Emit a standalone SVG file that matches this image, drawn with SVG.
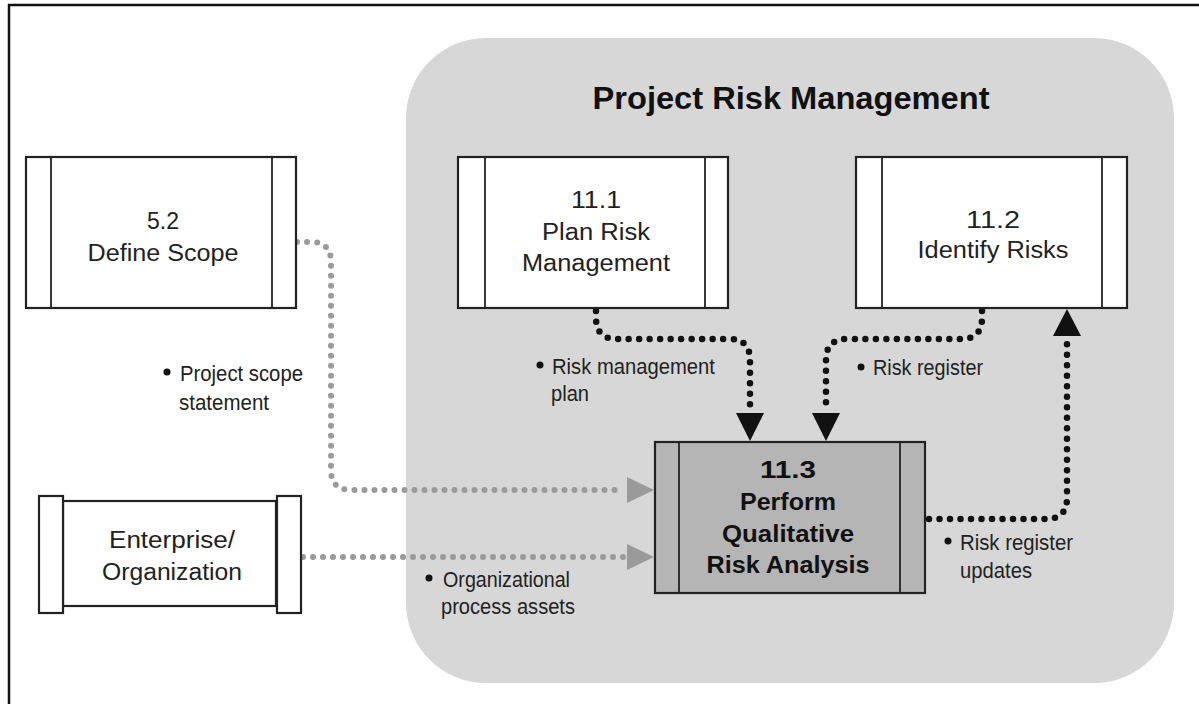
<svg xmlns="http://www.w3.org/2000/svg" width="1199" height="704" viewBox="0 0 1199 704">
  <style>
    .frame { fill: none; stroke: #111; stroke-width: 2.5; }
    .panel { fill: #d7d7d7; }
    .box { fill: #ffffff; stroke: #222; stroke-width: 2.2; }
    .bar { fill: none; stroke: #222; stroke-width: 1.8; }
    .hot { fill: #b5b5b5; stroke: #222; stroke-width: 2.2; }
    .lbl { font-family: "Liberation Sans", Arial, sans-serif; fill: #222; }
    .node { font-size: 23px; text-anchor: middle; }
    .bold { font-weight: bold; fill: #111; }
    .note { font-size: 22px; }
    .dot-gray { fill: none; stroke: #9a9a9a; stroke-width: 6; stroke-linecap: round; stroke-dasharray: 0 10; }
    .dot-black { fill: none; stroke: #111; stroke-width: 6.5; stroke-linecap: round; stroke-dasharray: 0 10.5; }
    .head-gray { fill: #9a9a9a; }
    .head-black { fill: #111; }
    .bullet { fill: #111; }
  </style>

  <!-- page frame (top and left rules) -->
  <path class="frame" d="M9,704 L9,5 L1199,5"/>

  <!-- knowledge-area panel -->
  <g id="panel">
    <rect class="panel" x="406" y="38" width="768" height="645" rx="80" ry="80"/>
    <text class="lbl bold" x="791" y="109" font-size="32" text-anchor="middle" textLength="397" lengthAdjust="spacingAndGlyphs">Project Risk Management</text>
  </g>

  <!-- connectors -->
  <g id="connectors">
    <!-- Define Scope to 11.3 -->
    <path class="dot-gray" d="M297,242 L311,242 Q331,242 331,262 L331,470 Q331,490 351,490 L624,490"/>
    <polygon class="head-gray" points="627,477 654,490 627,503"/>
    <!-- Enterprise/Organization to 11.3 -->
    <path class="dot-gray" d="M303,557 L624,557"/>
    <polygon class="head-gray" points="627,544 654,557 627,570"/>
    <!-- 11.1 to 11.3 -->
    <path class="dot-black" d="M596,311 L596,318 Q596,339 617,339 L729,339 Q750,339 750,360 L750,410"/>
    <polygon class="head-black" points="736,413 764,413 750,441"/>
    <!-- 11.2 to 11.3 -->
    <path class="dot-black" d="M982,311 L982,318 Q982,339 961,339 L847,339 Q826,339 826,360 L826,410"/>
    <polygon class="head-black" points="812,413 840,413 826,441"/>
    <!-- 11.3 back to 11.2 -->
    <path class="dot-black" d="M929,519 L1046,519 Q1067,519 1067,498 L1067,339"/>
    <polygon class="head-black" points="1053,336 1081,336 1067,309"/>
  </g>

  <!-- 5.2 Define Scope -->
  <g id="define-scope">
    <rect class="box" x="26" y="157" width="270" height="151"/>
    <line class="bar" x1="51" y1="157" x2="51" y2="308"/>
    <line class="bar" x1="272" y1="157" x2="272" y2="308"/>
    <text class="lbl node" x="163" y="229" font-size="24">5.2</text>
    <text class="lbl node" x="163" y="261" font-size="24" textLength="151" lengthAdjust="spacingAndGlyphs">Define Scope</text>
  </g>

  <!-- Enterprise/Organization -->
  <g id="enterprise">
    <rect class="box" x="63" y="501" width="213" height="105"/>
    <rect class="box" x="39" y="496" width="24" height="117"/>
    <rect class="box" x="277" y="496" width="24" height="117"/>
    <text class="lbl node" x="172" y="548" textLength="126" lengthAdjust="spacingAndGlyphs">Enterprise/</text>
    <text class="lbl node" x="172" y="580" textLength="140" lengthAdjust="spacingAndGlyphs">Organization</text>
  </g>

  <!-- 11.1 Plan Risk Management -->
  <g id="plan-risk">
    <rect class="box" x="458" y="157" width="270" height="151"/>
    <line class="bar" x1="485" y1="157" x2="485" y2="308"/>
    <line class="bar" x1="705" y1="157" x2="705" y2="308"/>
    <text class="lbl node" x="596" y="208" textLength="50" lengthAdjust="spacingAndGlyphs">11.1</text>
    <text class="lbl node" x="596" y="240" textLength="108" lengthAdjust="spacingAndGlyphs">Plan Risk</text>
    <text class="lbl node" x="596" y="271" textLength="148" lengthAdjust="spacingAndGlyphs">Management</text>
  </g>

  <!-- 11.2 Identify Risks -->
  <g id="identify-risks">
    <rect class="box" x="856" y="157" width="271" height="151"/>
    <line class="bar" x1="882" y1="157" x2="882" y2="308"/>
    <line class="bar" x1="1102" y1="157" x2="1102" y2="308"/>
    <text class="lbl node" x="993" y="228" textLength="54" lengthAdjust="spacingAndGlyphs">11.2</text>
    <text class="lbl node" x="993" y="258" textLength="151" lengthAdjust="spacingAndGlyphs">Identify Risks</text>
  </g>

  <!-- 11.3 Perform Qualitative Risk Analysis -->
  <g id="qualitative">
    <rect class="hot" x="655" y="442" width="270" height="151"/>
    <line class="bar" x1="679" y1="442" x2="679" y2="593"/>
    <line class="bar" x1="900" y1="442" x2="900" y2="593"/>
    <text class="lbl node bold" x="788" y="478" font-size="24" textLength="56" lengthAdjust="spacingAndGlyphs">11.3</text>
    <text class="lbl node bold" x="788" y="510" font-size="24" textLength="96" lengthAdjust="spacingAndGlyphs">Perform</text>
    <text class="lbl node bold" x="788" y="542" font-size="24" textLength="132" lengthAdjust="spacingAndGlyphs">Qualitative</text>
    <text class="lbl node bold" x="788" y="573" font-size="24" textLength="163" lengthAdjust="spacingAndGlyphs">Risk Analysis</text>
  </g>

  <!-- flow labels -->
  <g id="labels">
    <circle class="bullet" cx="167" cy="372" r="3.5"/>
    <text class="lbl note" x="180" y="381" textLength="123" lengthAdjust="spacingAndGlyphs">Project scope</text>
    <text class="lbl note" x="179" y="410" textLength="90" lengthAdjust="spacingAndGlyphs">statement</text>

    <circle class="bullet" cx="540" cy="365" r="3.5"/>
    <text class="lbl note" x="552" y="374" textLength="163" lengthAdjust="spacingAndGlyphs">Risk management</text>
    <text class="lbl note" x="551" y="401" textLength="38" lengthAdjust="spacingAndGlyphs">plan</text>

    <circle class="bullet" cx="861" cy="367" r="3.5"/>
    <text class="lbl note" x="873" y="375" textLength="110" lengthAdjust="spacingAndGlyphs">Risk register</text>

    <circle class="bullet" cx="429" cy="578" r="3.5"/>
    <text class="lbl note" x="443" y="587" textLength="127" lengthAdjust="spacingAndGlyphs">Organizational</text>
    <text class="lbl note" x="441" y="614" textLength="134" lengthAdjust="spacingAndGlyphs">process assets</text>

    <circle class="bullet" cx="948" cy="541" r="3.5"/>
    <text class="lbl note" x="960" y="550" textLength="113" lengthAdjust="spacingAndGlyphs">Risk register</text>
    <text class="lbl note" x="960" y="578" textLength="72" lengthAdjust="spacingAndGlyphs">updates</text>
  </g>
</svg>
